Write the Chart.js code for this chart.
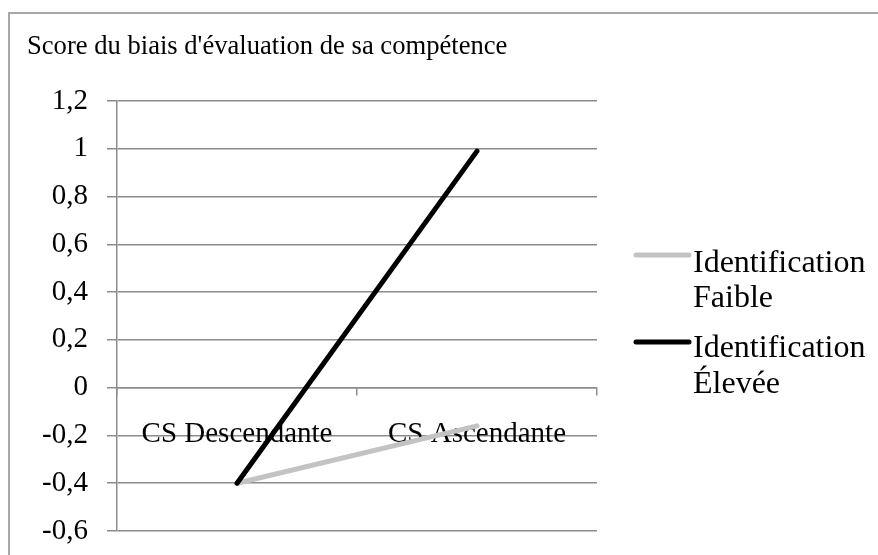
<!DOCTYPE html>
<html>
<head>
<meta charset="utf-8">
<script src="https://cdn.jsdelivr.net/npm/chart.js@4"></script>
<style>
  html, body { margin: 0; padding: 0; background: #fff; }
  #wrap { position: relative; width: 878px; height: 555px; overflow: hidden; }
  #frame { position: absolute; left: 8px; top: 12px; width: 900px; height: 600px; border: 2px solid #a8a8a8; box-sizing: border-box; }
  canvas { position: absolute; left: 0; top: 0; }
</style>
</head>
<body>
<div id="wrap">
  <div id="frame"></div>
  <canvas id="c" width="878" height="555"></canvas>
</div>
<script>
const titleText = "Score du biais d'évaluation de sa compétence";
const categories = ["CS Descendante", "CS Ascendante"];
const seriesNames = ["Identification Faible", "Identification Élevée"];
const legendLines = [["Identification", "Faible"], ["Identification", "Élevée"]];
const faible = [-0.4, -0.16];
const elevee = [-0.4, 0.99];
const yTickLabels = ["-0,6", "-0,4", "-0,2", "0", "0,2", "0,4", "0,6", "0,8", "1", "1,2"];

const SERIF = "'Liberation Serif', 'Times New Roman', serif";

const legendPlugin = {
  id: 'sideLegend',
  afterDraw(chart) {
    const ctx = chart.ctx;
    const items = [
      { lineY: 255, base: [272, 307] },
      { lineY: 342, base: [357, 393] }
    ];
    ctx.save();
    chart.data.datasets.forEach((ds, i) => {
      const it = items[i];
      ctx.strokeStyle = ds.borderColor;
      ctx.lineWidth = 5;
      ctx.lineCap = 'round';
      ctx.beginPath();
      ctx.moveTo(636, it.lineY);
      ctx.lineTo(689, it.lineY);
      ctx.stroke();
      ctx.fillStyle = '#000';
      ctx.font = "32px " + SERIF;
      ctx.textAlign = 'left';
      ctx.textBaseline = 'alphabetic';
      legendLines[i].forEach((t, j) => ctx.fillText(t, 693, it.base[j]));
    });
    ctx.restore();
  }
};

function zeroPad(s) { s.paddingTop = 0; s.paddingBottom = 0; s.paddingLeft = 0; s.paddingRight = 0; }

new Chart(document.getElementById('c'), {
  type: 'line',
  data: {
    labels: categories,
    datasets: [
      { label: seriesNames[0], data: faible, borderColor: '#c3c3c3', backgroundColor: '#c3c3c3',
        borderWidth: 5, pointRadius: 0, tension: 0, borderCapStyle: 'round', order: 1 },
      { label: seriesNames[1], data: elevee, borderColor: '#000000', backgroundColor: '#000000',
        borderWidth: 5, pointRadius: 0, tension: 0, borderCapStyle: 'round', order: 0 }
    ]
  },
  options: {
    responsive: false,
    animation: false,
    devicePixelRatio: 1,
    layout: { padding: { left: 27, top: 0, right: 281, bottom: 24 } },
    plugins: {
      legend: { display: false },
      tooltip: { enabled: false },
      title: {
        display: true, text: titleText, align: 'start', color: '#000',
        font: { family: SERIF, size: 26.6, weight: 'normal', lineHeight: 1.2 },
        padding: { top: 31, bottom: 38 }
      }
    },
    scales: {
      x: {
        type: 'category',
        position: { y: 0 },
        offset: true,
        grid: { display: true, drawOnChartArea: false, offset: true, tickLength: 7, color: '#8c8c8c', lineWidth: 1.5 },
        border: { display: true, color: '#8c8c8c', width: 1.5 },
        ticks: { color: '#000', font: { family: SERIF, size: 29 }, padding: 22, maxRotation: 0, autoSkip: false },
        afterFit: zeroPad
      },
      y: {
        min: -0.6, max: 1.2,
        ticks: {
          stepSize: 0.2, color: '#000', padding: 19,
          font: { family: SERIF, size: 29 },
          callback: (v, i) => yTickLabels[i] !== undefined ? yTickLabels[i] : String(v)
        },
        grid: { color: '#8c8c8c', lineWidth: 1.5, tickLength: 10 },
        border: { display: true, color: '#8c8c8c', width: 1.5 },
        afterFit: (s) => { s.width = 90; zeroPad(s); }
      }
    }
  },
  plugins: [legendPlugin]
});
</script>
</body>
</html>
